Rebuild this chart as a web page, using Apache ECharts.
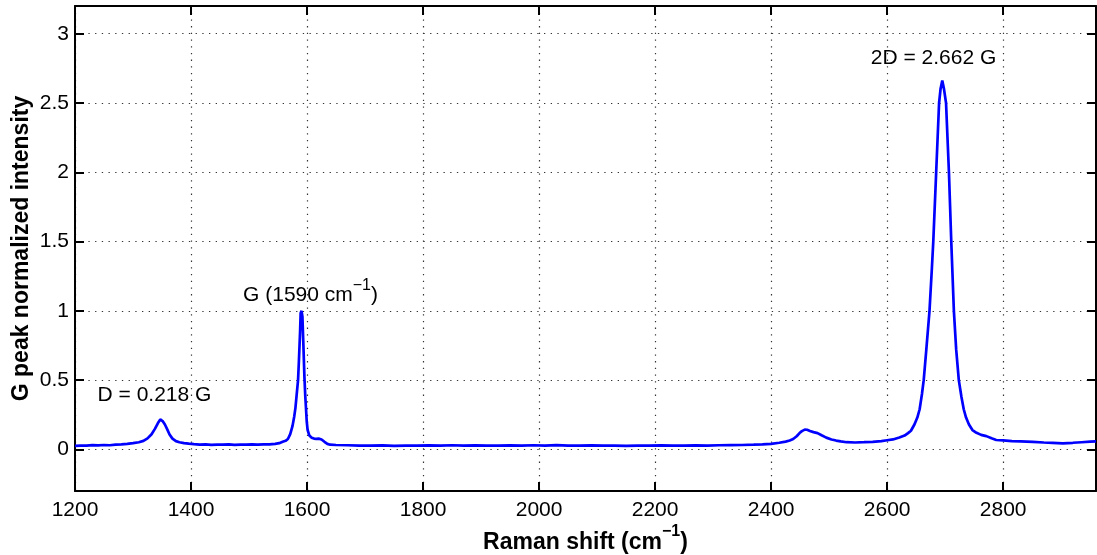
<!DOCTYPE html>
<html>
<head>
<meta charset="utf-8">
<script src="https://cdn.jsdelivr.net/npm/echarts@6/dist/echarts.min.js"></script>
<style>
html,body{margin:0;padding:0;background:#fff;}
#chart{width:1097px;height:555px;}
</style>
</head>
<body>
<div id="chart"></div>
<script>
// Raman shift (cm^-1)
var ramanShift = [
1200,1210,1220,1230,1240,1250,1260,1270,1280,1290,1300,1310,1318,1325,1332,1338,1343,1347,1351,1355,1359,1363,1368,1374,1380,1388,1396,1405,1415,1425,1435,1445,1455,1465,1475,1485,1495,1505,1515,1525,1535,1545,1552,1558,1563,1567,1571,1575,1578,1580,1582,1584.5,1586,1588,1589,1590.5,1592,1593.5,1595.5,1597,1598,1599.5,1601,1604,1608,1612,1616,1620,1625,1630,1635,1640,1650,1670,1690,1710,1730,1750,1770,1790,1810,1830,1850,1870,1890,1910,1930,1950,1970,1990,2010,2030,2050,2070,2090,2110,2130,2150,2170,2190,2210,2230,2250,2270,2290,2310,2330,2350,2370,2385,2400,2414,2425,2432,2438,2444,2449,2453,2458,2462,2467,2473,2480,2487,2495,2504,2512,2520,2530,2545,2560,2575,2590,2600,2610,2621,2630,2636,2641,2647,2652,2656,2660,2663,2667.5,2673,2677,2679.5,2684.5,2689.5,2692,2695,2698,2701.5,2706.5,2710.5,2715,2719,2723.5,2728,2732,2736,2741,2747,2754,2762,2771,2780,2788,2800,2815,2830,2851,2870,2885,2903,2920,2935,2950,2960
];
// G peak normalized intensity
var intensity = [
0.025,0.028,0.027,0.031,0.029,0.032,0.030,0.034,0.036,0.040,0.045,0.052,0.062,0.080,0.110,0.150,0.190,0.216,0.205,0.180,0.145,0.108,0.078,0.060,0.052,0.046,0.042,0.038,0.035,0.036,0.033,0.035,0.034,0.036,0.033,0.035,0.034,0.036,0.034,0.037,0.036,0.040,0.045,0.055,0.062,0.075,0.110,0.170,0.240,0.300,0.390,0.500,0.640,0.850,0.985,1.000,0.960,0.780,0.520,0.380,0.310,0.200,0.140,0.100,0.085,0.078,0.076,0.078,0.072,0.055,0.040,0.034,0.032,0.030,0.028,0.027,0.029,0.026,0.028,0.027,0.029,0.028,0.030,0.027,0.029,0.028,0.027,0.029,0.027,0.030,0.028,0.031,0.028,0.027,0.029,0.027,0.028,0.026,0.028,0.027,0.029,0.028,0.027,0.029,0.028,0.030,0.031,0.032,0.034,0.036,0.040,0.048,0.056,0.064,0.075,0.095,0.118,0.132,0.143,0.142,0.133,0.125,0.118,0.102,0.085,0.072,0.064,0.058,0.052,0.050,0.052,0.055,0.060,0.066,0.072,0.086,0.100,0.118,0.135,0.180,0.230,0.290,0.400,0.500,0.720,1.000,1.300,1.500,2.000,2.500,2.600,2.662,2.600,2.500,2.000,1.500,1.000,0.720,0.500,0.380,0.290,0.230,0.180,0.140,0.120,0.105,0.096,0.080,0.068,0.065,0.060,0.058,0.055,0.050,0.048,0.044,0.048,0.052,0.056,0.058
];
var xTicks = [1200,1400,1600,1800,2000,2200,2400,2600,2800];
var yTicks = [0,0.5,1,1.5,2,2.5,3];
var xRange = [1200, 2960];
var yRange = [-0.3, 3.2];

var FONT = 'Liberation Sans, Arial, Helvetica, sans-serif';
var seriesData = ramanShift.map(function (x, i) { return [x, intensity[i]]; });

var chart = echarts.init(document.getElementById('chart'), null, {renderer: 'canvas'});

function boxAxis(base) {
  return Object.assign({
    type: 'value',
    axisLine: {show: true, onZero: false, lineStyle: {color: '#000', width: 2}},
    axisTick: {show: true, inside: true, length: 9, lineStyle: {color: '#000', width: 2}},
    axisLabel: {show: false},
    splitLine: {show: false}
  }, base);
}

var gridDash = {color: '#333', width: 1.2, type: [1.3, 5.4]};
var plainNum = function (v) { return String(v); };

var option = {
  animation: false,
  backgroundColor: '#fff',
  grid: {left: 75, right: 1, top: 6, bottom: 64, containLabel: false, outerBoundsMode: 'none'},
  xAxis: [
    boxAxis({
      position: 'bottom', min: xRange[0], max: xRange[1],
      axisTick: {show: true, inside: true, length: 9, customValues: xTicks, lineStyle: {color: '#000', width: 2}},
      axisLabel: {show: true, customValues: xTicks, color: '#000', fontFamily: FONT, fontSize: 21, margin: 9, formatter: plainNum},
      splitLine: {show: true, lineStyle: gridDash},
      name: '{b|Raman shift (cm}{s|\u22121}{b|)}',
      nameLocation: 'middle', nameGap: 33, nameMoveOverlap: false,
      nameTextStyle: {
        rich: {
          b: {fontFamily: FONT, fontSize: 23, fontWeight: 'bold', color: '#000', lineHeight: 30, verticalAlign: 'bottom'},
          s: {fontFamily: FONT, fontSize: 16, fontWeight: 'bold', color: '#000', lineHeight: 20, verticalAlign: 'top'}
        }
      }
    }),
    boxAxis({
      position: 'top', min: xRange[0], max: xRange[1],
      axisTick: {show: true, inside: true, length: 9, customValues: xTicks, lineStyle: {color: '#000', width: 2}}
    })
  ],
  yAxis: [
    boxAxis({
      position: 'left', min: yRange[0], max: yRange[1],
      axisTick: {show: true, inside: true, length: 9, customValues: yTicks, lineStyle: {color: '#000', width: 2}},
      axisLabel: {show: true, customValues: yTicks, color: '#000', fontFamily: FONT, fontSize: 21, margin: 6, formatter: plainNum},
      splitLine: {show: true, lineStyle: gridDash},
      name: 'G peak normalized intensity',
      nameLocation: 'middle', nameGap: 42, nameMoveOverlap: false,
      nameTextStyle: {fontFamily: FONT, fontSize: 23, fontWeight: 'bold', color: '#000'}
    }),
    boxAxis({
      position: 'right', min: yRange[0], max: yRange[1],
      axisTick: {show: true, inside: true, length: 9, customValues: yTicks, lineStyle: {color: '#000', width: 2}}
    })
  ],
  series: [{
    type: 'line',
    data: seriesData,
    xAxisIndex: 0, yAxisIndex: 0,
    showSymbol: false, symbol: 'none',
    lineStyle: {color: '#0000ff', width: 2.7},
    itemStyle: {color: '#0000ff'},
    z: 5,
    markPoint: {
      symbol: 'circle', symbolSize: 0,
      silent: true,
      label: {show: true, position: 'inside', color: '#000', fontFamily: FONT, fontSize: 21},
      data: [
        {coord: [1337, 0.39], value: 'D', label: {formatter: 'D = 0.218 G'}},
        {coord: [1606, 1.14], value: 'G', label: {
          formatter: '{m|G (1590 cm}{s|\u22121}{m|)}',
          rich: {
            m: {fontFamily: FONT, fontSize: 21, color: '#000', lineHeight: 28, verticalAlign: 'bottom'},
            s: {fontFamily: FONT, fontSize: 16, color: '#000', lineHeight: 20, verticalAlign: 'top'}
          }
        }},
        {coord: [2680, 2.825], value: '2D', label: {formatter: '2D = 2.662 G'}}
      ]
    }
  }]
};
chart.setOption(option);
</script>
</body>
</html>
